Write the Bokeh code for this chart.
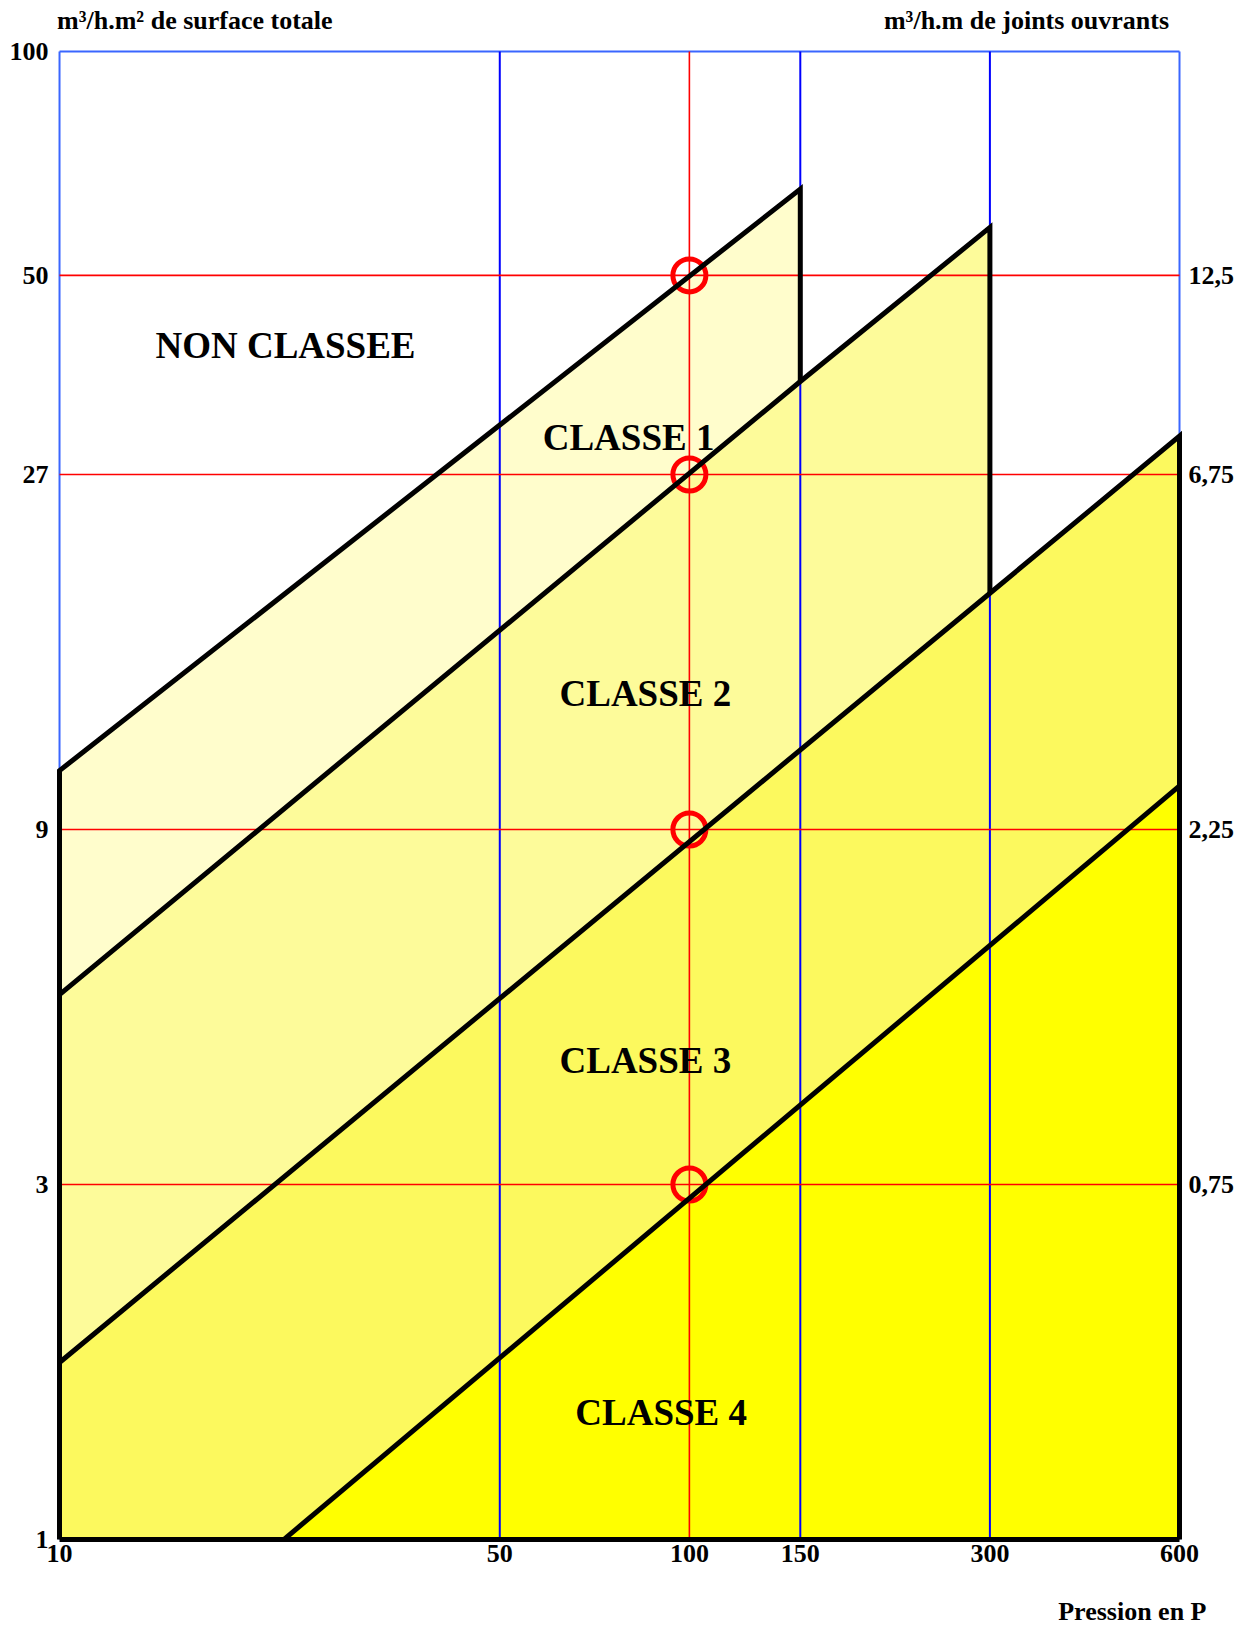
from bokeh.plotting import figure
from bokeh.models import Range1d, FixedTicker, LogAxis, Label, CustomJSTickFormatter
from bokeh.embed import file_html
from bokeh.resources import INLINE

# ---------------- data ----------------
pression_ticks = [10, 50, 100, 150, 300, 600]
pression_labels = ["10", "50", "100", "150", "300", "600"]
debit_ticks = [1, 3, 9, 27, 50, 100]
debit_labels = ["1", "3", "9", "27", "50", "100"]
joints_ticks = [3, 9, 27, 50]
joints_labels = ["0,75", "2,25", "6,75", "12,5"]

ref_pression = 100
ref_debit = [50, 27, 9, 3]

grille_bleue = [50, 150, 300]

# class limit lines (pression, débit)
limite1_x = [10, 150]
limite1_y = [10.8, 65.3]
limite2_x = [10, 150, 300]
limite2_y = [5.4, 36, 58]
limite3_x = [10, 300, 600]
limite3_y = [1.73, 18.7, 30.4]
limite4_x = [22.7, 600]
limite4_y = [1, 10.3]

classes = ["NON CLASSEE", "CLASSE  1", "CLASSE  2", "CLASSE  3", "CLASSE  4"]
class_colors = ["#FFFDCC", "#FDFB9A", "#FCF95E", "#FFFF00"]

titre_gauche = "m³/h.m² de surface totale"
titre_droite = "m³/h.m de joints ouvrants"
titre_bas = "Pression en P"

x_min, x_max = 10, 600
y_min, y_max = 1, 100

FONT = "Liberation Serif"

p = figure(x_axis_type="log", y_axis_type="log",
           x_range=Range1d(9.89, 606.6), y_range=Range1d(0.991, 100.9),
           frame_width=1126, frame_height=1494,
           min_border_left=56, min_border_right=68, min_border_top=48, min_border_bottom=84,
           output_backend="svg", toolbar_location=None,
           background_fill_color="white", border_fill_color="white",
           outline_line_color=None)
p.xgrid.visible = False
p.ygrid.visible = False


def fmt(ticks, labels):
    return CustomJSTickFormatter(args=dict(t=ticks, l=labels),
                                 code="const i = t.indexOf(tick); return i >= 0 ? l[i] : '';")


def style_axis(ax, standoff, size="26px"):
    ax.axis_line_color = None
    ax.major_tick_line_color = None
    ax.minor_tick_line_color = None
    ax.major_label_text_font = FONT
    ax.major_label_text_font_style = "bold"
    ax.major_label_text_font_size = size
    ax.major_label_text_color = "black"
    ax.major_label_standoff = standoff


xa = p.xaxis[0]
xa.ticker = FixedTicker(ticks=pression_ticks, minor_ticks=[])
xa.formatter = fmt(pression_ticks, pression_labels)
style_axis(xa, -4)

ya = p.yaxis[0]
ya.ticker = FixedTicker(ticks=debit_ticks, minor_ticks=[])
ya.formatter = fmt(debit_ticks, debit_labels)
style_axis(ya, 2)
ya.major_label_text_baseline = "alphabetic"

ra = LogAxis(ticker=FixedTicker(ticks=joints_ticks, minor_ticks=[]),
             formatter=fmt(joints_ticks, joints_labels))
style_axis(ra, 0)
ra.major_label_text_baseline = "alphabetic"
p.add_layout(ra, "right")

# unit titles placed as labels of an upper axis (centres of the texts)
titre_pos = [16.4, 343]
ta = LogAxis(ticker=FixedTicker(ticks=titre_pos, minor_ticks=[]),
             formatter=fmt(titre_pos, [titre_gauche, titre_droite]))
style_axis(ta, 8)
p.add_layout(ta, "above")

# pressure title below the pressure axis
bas_pos = [505]
ba = LogAxis(ticker=FixedTicker(ticks=bas_pos, minor_ticks=[]),
             formatter=fmt(bas_pos, [titre_bas]))
style_axis(ba, 26)
p.add_layout(ba, "below")

# ---------------- class regions ----------------
c1x = limite1_x + limite2_x[:2][::-1]
c1y = limite1_y + limite2_y[:2][::-1]
c2x = limite2_x + [limite3_x[1], limite3_x[0]]
c2y = limite2_y + [limite3_y[1], limite3_y[0]]
c3x = limite3_x + limite4_x[::-1] + [x_min]
c3y = limite3_y + limite4_y[::-1] + [y_min]
c4x = limite4_x + [x_max]
c4y = limite4_y + [y_min]

p.patches(xs=[c1x, c2x, c3x, c4x], ys=[c1y, c2y, c3y, c4y],
          fill_color=class_colors, line_color=None)

# ---------------- grid lines ----------------
border_blue = "#3A66FF"
p.multi_line(xs=[[x_min, x_max], [x_min, x_min], [x_max, x_max]],
             ys=[[y_max, y_max], [y_min, y_max], [y_min, y_max]],
             line_color=border_blue, line_width=2)
p.multi_line(xs=[[g, g] for g in grille_bleue], ys=[[y_min, y_max]] * len(grille_bleue),
             line_color="#0000FF", line_width=2)
p.multi_line(xs=[[x_min, x_max]] * len(ref_debit), ys=[[d, d] for d in ref_debit],
             line_color="#FF0000", line_width=1.6)
p.line(x=[ref_pression, ref_pression], y=[y_min, y_max], line_color="#FF0000", line_width=1.6)

# reference points
p.scatter(x=[ref_pression] * len(ref_debit), y=ref_debit, size=33,
          fill_color=None, line_color="#FF0000", line_width=5)

# ---------------- black limits ----------------
bx = [
    [x_min, x_min] + limite1_x + [limite1_x[-1]],
    limite2_x + [limite2_x[-1]],
    limite3_x + [limite3_x[-1]],
    limite4_x,
    [x_min, x_max],
]
by = [
    [y_min, limite1_y[0]] + limite1_y + [limite2_y[1]],
    limite2_y + [limite3_y[1]],
    limite3_y + [y_min],
    limite4_y,
    [y_min, y_min],
]
p.multi_line(xs=bx, ys=by, line_color="black", line_width=5, line_join="miter")


# ---------------- class texts ----------------
def lab(x, y, text, size, align="left"):
    p.add_layout(Label(x=x, y=y, text=text, text_align=align, text_baseline="middle",
                       text_font=FONT, text_font_style="bold", text_font_size=size,
                       text_color="black"))


lab(14.2, 40.3, classes[0], "37px")
lab(58.5, 30.3, classes[1], "37px")
lab(62.2, 13.7, classes[2], "37px")
lab(62.2, 4.40, classes[3], "37px")
lab(65.9, 1.48, classes[4], "37px")

open("out.html", "w").write(file_html(p, INLINE))
